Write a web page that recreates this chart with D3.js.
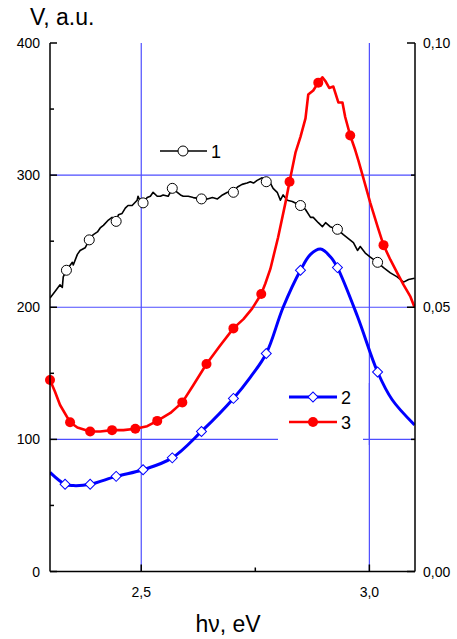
<!DOCTYPE html>
<html>
<head>
<meta charset="utf-8">
<script src="https://cdn.jsdelivr.net/npm/d3@7"></script>
<style>
  body { margin: 0; background: #fff; }
  text { font-family: Arial, "Liberation Sans", sans-serif; fill: #000; }
</style>
</head>
<body>
<div id="chart"></div>
<script>
  "use strict";

  // curve 1 (black, noisy)
  var s1X = [2.300, 2.311, 2.322, 2.327, 2.329, 2.336, 2.349, 2.351, 2.360, 2.366, 2.377, 2.386, 2.395, 2.404, 2.410, 2.417, 2.428, 2.436, 2.445, 2.450, 2.458, 2.465, 2.471, 2.480, 2.491, 2.493, 2.498, 2.504, 2.513, 2.520, 2.526, 2.535, 2.542, 2.548, 2.559, 2.568, 2.579, 2.586, 2.592, 2.603, 2.614, 2.632, 2.645, 2.656, 2.667, 2.678, 2.689, 2.702, 2.711, 2.721, 2.732, 2.739, 2.746, 2.754, 2.765, 2.774, 2.783, 2.789, 2.798, 2.805, 2.811, 2.820, 2.831, 2.849, 2.860, 2.871, 2.877, 2.888, 2.897, 2.904, 2.914, 2.930, 2.943, 2.954, 2.965, 2.974, 2.980, 2.991, 3.002, 3.018, 3.031, 3.046, 3.061, 3.075, 3.086, 3.099];
  var s1Y = [207, 212, 217, 215, 223, 228, 234, 232, 240, 243, 245, 251, 255, 257, 260, 262, 266, 268, 265, 270, 271, 275, 277, 277, 281, 284, 280, 279, 283, 284, 287, 284, 284, 285, 284, 290, 287, 285, 284, 284, 283, 282, 282, 283, 282, 285, 287, 287, 291, 293, 294, 295, 294, 296, 298, 295, 294, 290, 287, 281, 285, 281, 280, 277, 274, 268, 268, 264, 261, 264, 261, 259, 255, 252, 249, 243, 246, 241, 238, 234, 230, 226, 223, 219, 221, 222];
  var m1X = [2.336, 2.386, 2.445, 2.504, 2.568, 2.632, 2.702, 2.774, 2.849, 2.930, 3.018];
  var m1Y = [228, 251, 265, 279, 290, 282, 287, 295, 277, 259, 234];

  // curve 2 (blue, smooth)
  var s2X = [2.300, 2.333, 2.351, 2.388, 2.445, 2.504, 2.568, 2.632, 2.702, 2.739, 2.774, 2.811, 2.849, 2.871, 2.893, 2.915, 2.930, 2.974, 3.018, 3.050, 3.099];
  var s2Y = [75, 66, 65, 66, 72, 77, 86, 106, 131, 147, 165, 200, 228, 240, 244, 238, 230, 193, 151, 130, 111];
  var m2X = [2.333, 2.388, 2.445, 2.504, 2.568, 2.632, 2.702, 2.774, 2.849, 2.930, 3.018];
  var m2Y = [66, 66, 72, 77, 86, 106, 131, 165, 228, 230, 151];

  // curve 3 (red)
  var s3X = [2.300, 2.311, 2.322, 2.344, 2.360, 2.388, 2.410, 2.436, 2.461, 2.487, 2.513, 2.535, 2.564, 2.590, 2.614, 2.643, 2.673, 2.702, 2.724, 2.743, 2.763, 2.772, 2.783, 2.800, 2.816, 2.825, 2.838, 2.849, 2.860, 2.866, 2.877, 2.888, 2.897, 2.904, 2.912, 2.921, 2.932, 2.941, 2.947, 2.958, 2.969, 2.976, 2.985, 3.002, 3.018, 3.031, 3.046, 3.061, 3.075, 3.090, 3.099];
  var s3Y = [145, 136, 126, 113, 109, 106, 106, 107, 107, 108, 110, 114, 120, 128, 141, 157, 171, 184, 191, 199, 210, 218, 229, 253, 279, 295, 317, 329, 343, 361, 364, 370, 374, 371, 366, 367, 355, 355, 344, 330, 319, 311, 300, 279, 261, 247, 236, 226, 217, 208, 200];
  var m3X = [2.300, 2.344, 2.388, 2.436, 2.487, 2.535, 2.590, 2.643, 2.702, 2.763, 2.825, 2.888, 2.958, 3.031];
  var m3Y = [145, 113, 106, 107, 108, 114, 128, 157, 184, 210, 295, 370, 330, 247];

  var leftTicks = [0, 100, 200, 300, 400];
  var leftLabels = ["0", "100", "200", "300", "400"];
  var rightTicks = [0, 0.05, 0.10];
  var rightLabels = ["0,00", "0,05", "0,10"];
  var xTicks = [2.5, 3.0];
  var xLabels = ["2,5", "3,0"];

  var W = 457, H = 639;
  var L = 50, R = 415, T = 43, B = 571.5;

  var x = d3.scaleLinear().domain([2.3, 3.1]).range([L, R]);
  var y = d3.scaleLinear().domain([0, 400]).range([B, T]);
  var y2 = d3.scaleLinear().domain([0, 0.10]).range([B, T]);

  var svg = d3.select("#chart").append("svg")
    .attr("width", W).attr("height", H);

  var grid = "#4d4dff";

  // grid
  svg.selectAll("line.gy").data([100, 200, 300]).enter().append("line")
    .attr("x1", L).attr("x2", R)
    .attr("y1", function(d) { return y(d); }).attr("y2", function(d) { return y(d); })
    .attr("stroke", grid).attr("stroke-width", 1.2);
  svg.selectAll("line.gx").data(xTicks).enter().append("line")
    .attr("y1", T).attr("y2", B)
    .attr("x1", function(d) { return x(d); }).attr("x2", function(d) { return x(d); })
    .attr("stroke", grid).attr("stroke-width", 1.2);

  // legend box hides part of the 100 gridline
  svg.append("rect").attr("x", 278).attr("y", 383).attr("width", 85).attr("height", 62).attr("fill", "#fff");
  svg.append("line").attr("x1", x(3.0)).attr("x2", x(3.0)).attr("y1", 383).attr("y2", 445)
    .attr("stroke", grid).attr("stroke-width", 1.2);

  function pts(xs, ys) { return xs.map(function(v, i) { return [v, ys[i]]; }); }

  var clip = svg.append("clipPath").attr("id", "clip").append("rect")
    .attr("x", L).attr("y", T - 20).attr("width", R - L).attr("height", B - T + 20);

  var lin = d3.line().x(function(d) { return x(d[0]); }).y(function(d) { return y(d[1]); });
  var smooth = d3.line().curve(d3.curveCatmullRom.alpha(0.5))
    .x(function(d) { return x(d[0]); }).y(function(d) { return y(d[1]); });

  var plot = svg.append("g").attr("clip-path", "url(#clip)");

  plot.append("path").attr("d", lin(pts(s1X, s1Y)))
    .attr("fill", "none").attr("stroke", "#000").attr("stroke-width", 1.6).attr("stroke-linejoin", "round");
  plot.append("path").attr("d", smooth(pts(s2X, s2Y)))
    .attr("fill", "none").attr("stroke", "#0000ff").attr("stroke-width", 3);
  plot.append("path").attr("d", lin(pts(s3X, s3Y)))
    .attr("fill", "none").attr("stroke", "#ff0000").attr("stroke-width", 2.6).attr("stroke-linejoin", "round");

  // markers
  var diamond = d3.symbol().type(d3.symbolSquare).size(50);
  svg.selectAll("circle.m1").data(pts(m1X, m1Y)).enter().append("circle")
    .attr("cx", function(d) { return x(d[0]); }).attr("cy", function(d) { return y(d[1]); })
    .attr("r", 5).attr("fill", "#fff").attr("stroke", "#000").attr("stroke-width", 1);
  svg.selectAll("path.m2").data(pts(m2X, m2Y)).enter().append("path")
    .attr("d", diamond)
    .attr("transform", function(d) { return "translate(" + x(d[0]) + "," + y(d[1]) + ") rotate(45)"; })
    .attr("fill", "#fff").attr("stroke", "#0000ff").attr("stroke-width", 1);
  svg.selectAll("circle.m3").data(pts(m3X, m3Y)).enter().append("circle")
    .attr("cx", function(d) { return x(d[0]); }).attr("cy", function(d) { return y(d[1]); })
    .attr("r", 5).attr("fill", "#ff0000");

  // axes
  var ax = svg.append("g").attr("stroke", "#000").attr("stroke-width", 1.5);
  ax.append("line").attr("x1", L).attr("x2", L).attr("y1", T).attr("y2", B);
  ax.append("line").attr("x1", R).attr("x2", R).attr("y1", T).attr("y2", B);
  ax.append("line").attr("x1", L).attr("x2", R).attr("y1", B).attr("y2", B);

  d3.range(0, 401, 50).forEach(function(v) {
    var len = v % 100 === 0 ? 7 : 4;
    ax.append("line").attr("x1", L).attr("x2", L + len).attr("y1", y(v)).attr("y2", y(v));
  });
  d3.range(0, 0.1001, 0.025).forEach(function(v, i) {
    var len = i % 2 === 0 ? 8 : 4;
    ax.append("line").attr("x1", R).attr("x2", R - len).attr("y1", y2(v)).attr("y2", y2(v));
  });
  [2.5, 2.75, 3.0].forEach(function(v, i) {
    var len = i % 2 === 0 ? 7 : 4;
    ax.append("line").attr("x1", x(v)).attr("x2", x(v)).attr("y1", B).attr("y2", B - len);
  });

  svg.selectAll("text.yl").data(leftTicks).enter().append("text")
    .attr("x", 40).attr("y", function(d) { return y(d) + 5; })
    .attr("text-anchor", "end").attr("font-size", 14)
    .text(function(d, i) { return leftLabels[i]; });
  svg.selectAll("text.yr").data(rightTicks).enter().append("text")
    .attr("x", 423).attr("y", function(d) { return y2(d) + 5; })
    .attr("font-size", 14)
    .text(function(d, i) { return rightLabels[i]; });
  svg.selectAll("text.xl").data(xTicks).enter().append("text")
    .attr("x", function(d) { return x(d); }).attr("y", 597)
    .attr("text-anchor", "middle").attr("font-size", 14)
    .text(function(d, i) { return xLabels[i]; });

  svg.append("text").attr("x", 30).attr("y", 25).attr("font-size", 23).text("V, a.u.");
  svg.append("text").attr("x", 228).attr("y", 632).attr("text-anchor", "middle").attr("font-size", 23).text("h\u03bd, eV");

  // legend
  var leg = svg.append("g");
  leg.append("line").attr("x1", 160).attr("x2", 207).attr("y1", 151).attr("y2", 151).attr("stroke", "#000").attr("stroke-width", 1.6);
  leg.append("circle").attr("cx", 183).attr("cy", 151).attr("r", 5).attr("fill", "#fff").attr("stroke", "#000");
  leg.append("text").attr("x", 211).attr("y", 158).attr("font-size", 18).text("1");

  leg.append("line").attr("x1", 289).attr("x2", 337).attr("y1", 397).attr("y2", 397).attr("stroke", "#0000ff").attr("stroke-width", 3);
  leg.append("path").attr("d", diamond).attr("transform", "translate(313,397) rotate(45)")
    .attr("fill", "#fff").attr("stroke", "#0000ff");
  leg.append("text").attr("x", 341).attr("y", 404).attr("font-size", 18).text("2");

  leg.append("line").attr("x1", 289).attr("x2", 337).attr("y1", 422).attr("y2", 422).attr("stroke", "#ff0000").attr("stroke-width", 2.6);
  leg.append("circle").attr("cx", 313).attr("cy", 422).attr("r", 5).attr("fill", "#ff0000");
  leg.append("text").attr("x", 341).attr("y", 429).attr("font-size", 18).text("3");
</script>
</body>
</html>
